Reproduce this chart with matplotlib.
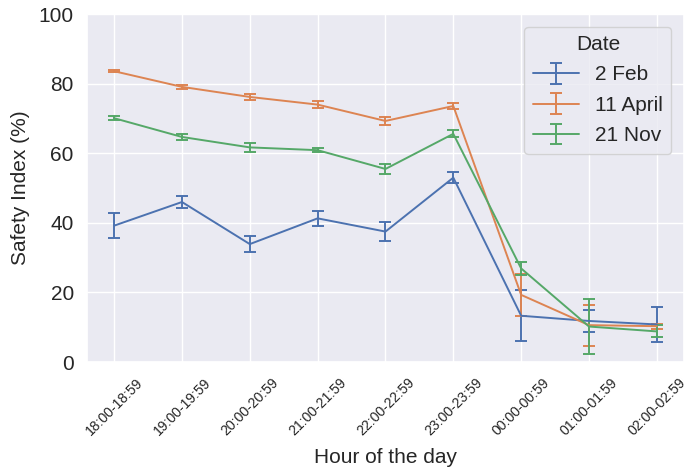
import matplotlib
matplotlib.use("Agg")
import matplotlib.pyplot as plt
import seaborn as sns
import numpy as np

sns.set_theme(style="darkgrid", palette="deep")
plt.rcParams['font.family'] = ['Liberation Sans', 'DejaVu Sans']

hours = ['18:00-18:59', '19:00-19:59', '20:00-20:59', '21:00-21:59', '22:00-22:59',
         '23:00-23:59', '00:00-00:59', '01:00-01:59', '02:00-02:59']

feb_mean = [39.2, 46.0, 33.9, 41.3, 37.5, 53.0, 13.3, 11.8, 10.8]
feb_err = [3.5, 1.8, 2.4, 2.1, 2.7, 1.5, 7.3, 3.2, 5.0]
apr_mean = [83.6, 79.1, 76.2, 74.0, 69.3, 73.6, 19.3, 10.6, 10.3]
apr_err = [0.3, 0.6, 0.8, 1.1, 1.1, 0.8, 6.0, 5.9, 0.7]
nov_mean = [70.1, 64.7, 61.7, 60.9, 55.5, 65.6, 26.9, 10.2, 8.8]
nov_err = [0.6, 0.8, 1.2, 0.6, 1.4, 1.0, 1.9, 7.8, 1.7]

series = [('2 Feb', feb_mean, feb_err),
          ('11 April', apr_mean, apr_err),
          ('21 Nov', nov_mean, nov_err)]

fig = plt.figure(figsize=(6.87, 4.72), dpi=100)
ax = fig.add_axes([0.1266, 0.233, 0.869, 0.737])

x = np.arange(len(hours))
for label, mean, err in series:
    ax.errorbar(x, mean, yerr=err, label=label, capsize=4, linewidth=1.4,
                elinewidth=1.4, capthick=1.4)

ax.set_ylim(0, 100)
ax.set_xticks(x)
ax.set_xticklabels(hours, rotation=45, fontsize=10.1)
ax.tick_params(axis='y', labelsize=15)
ax.set_xlabel("Hour of the day", fontsize=15, labelpad=7)
ax.set_ylabel("Safety Index (%)", fontsize=15, labelpad=6)

ax.legend(title="Date", fontsize=15, title_fontsize=15, loc='upper right',
          labelspacing=0.55, handlelength=2.2, borderaxespad=0.6)

plt.savefig("out.png", dpi=100)
